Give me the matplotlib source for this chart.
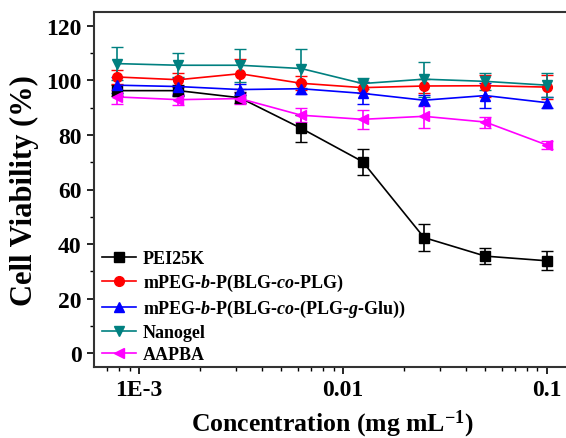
import matplotlib
matplotlib.use("Agg")
import matplotlib.pyplot as plt
from matplotlib.ticker import FixedLocator, LogLocator, NullFormatter, MultipleLocator

plt.rcParams['font.family'] = 'Liberation Serif'
plt.rcParams['font.weight'] = 'bold'
plt.rcParams['mathtext.fontset'] = 'custom'
plt.rcParams['mathtext.rm'] = 'Liberation Serif:bold'
plt.rcParams['mathtext.bf'] = 'Liberation Serif:bold'
plt.rcParams['mathtext.it'] = 'Liberation Serif:italic:bold'

# concentrations (mg/mL)
conc = [0.00078125, 0.0015625, 0.003125, 0.00625, 0.0125, 0.025, 0.05, 0.1]

pei = [96.2, 96.2, 93.6, 82.4, 70.2, 42.4, 35.6, 33.9]
pei_err = [2.0, 2.0, 2.0, 5.0, 4.8, 4.9, 2.9, 3.5]

plg = [101.2, 100.2, 102.4, 98.9, 97.3, 97.9, 98.0, 97.5]
plg_err = [2.5, 2.5, 5.5, 2.5, 2.0, 2.5, 4.0, 4.3]

glu = [98.2, 97.7, 96.6, 96.9, 95.2, 92.7, 94.4, 91.8]
glu_err = [3.0, 3.0, 2.0, 2.0, 4.0, 2.0, 4.7, 2.0]

nano = [106.1, 105.5, 105.5, 104.3, 98.8, 100.4, 99.6, 98.2]
nano_err = [6.0, 4.4, 6.0, 7.3, 2.0, 6.4, 3.2, 4.5]

aapba = [93.9, 92.9, 93.3, 87.2, 85.7, 86.8, 84.7, 76.3]
aapba_err = [2.5, 2.0, 2.0, 2.5, 3.5, 4.3, 2.0, 1.5]

series = [
    ('PEI25K', pei, pei_err, 'black', 's'),
    (r'mPEG-$b$-P(BLG-$co$-PLG)', plg, plg_err, 'red', 'o'),
    (r'mPEG-$b$-P(BLG-$co$-(PLG-$g$-Glu))', glu, glu_err, 'blue', '^'),
    ('Nanogel', nano, nano_err, '#008080', 'v'),
    ('AAPBA', aapba, aapba_err, '#FF00FF', '<'),
]

fig = plt.figure(figsize=(5.66, 4.39), dpi=100)
ax = fig.add_axes([94/566, 1 - 368/439, (570 - 94)/566, (368 - 13)/439])

handles = []
for name, y, e, c, m in series:
    cont = ax.errorbar(conc, y, yerr=e, color=c, marker=m, markersize=7, linewidth=1.2,
                       capsize=4, elinewidth=1.2, label=name)
    handles.append(cont[0])

ax.set_xscale('log')
ax.set_xlim(0.000602, 0.130)
ax.set_ylim(-5, 125)

ax.xaxis.set_major_locator(FixedLocator([0.001, 0.01, 0.1]))
ax.set_xticklabels(['1E-3', '0.01', '0.1'])
ax.xaxis.set_minor_locator(LogLocator(base=10, subs=range(2, 10)))
ax.xaxis.set_minor_formatter(NullFormatter())
ax.yaxis.set_major_locator(MultipleLocator(20))
ax.yaxis.set_minor_locator(MultipleLocator(10))

ax.tick_params(which='major', direction='out', length=5, width=1.2, labelsize=17,
               top=False, right=False, pad=4)
ax.tick_params(which='minor', direction='out', length=3, width=1.0, top=False, right=False)
for s in ax.spines.values():
    s.set_linewidth(1.5)
    s.set_color('#333333')

ax.set_xlabel(r'Concentration (mg mL$^{\mathregular{-1}}$)', fontsize=18.5, fontweight='bold', labelpad=5)
ax.set_ylabel('Cell Viability (%)', fontsize=22, fontweight='bold', labelpad=5)

ax.legend(handles=handles, labels=[s[0] for s in series], loc='lower left',
          frameon=False, fontsize=13, handlelength=1.9, handletextpad=0.35,
          labelspacing=0.28, borderpad=0, borderaxespad=0,
          bbox_to_anchor=(0.017, 0.01))

fig.savefig('out.png', dpi=100)
